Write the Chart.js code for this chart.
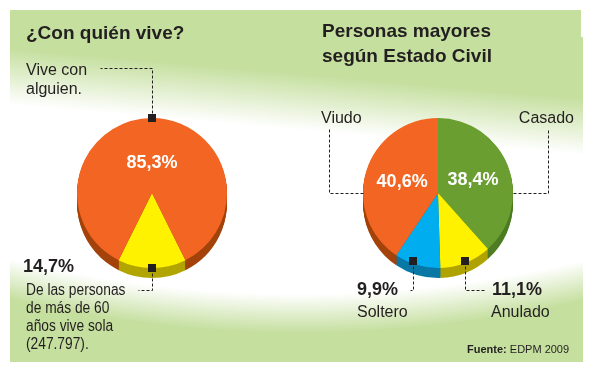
<!DOCTYPE html>
<html><head><meta charset="utf-8">
<script src="https://cdn.jsdelivr.net/npm/chart.js@4"></script>
<style>
html,body{margin:0;padding:0;background:#fff;}
#wrap{position:relative;width:591px;height:372px;overflow:hidden;font-family:"Liberation Sans",Arial,Helvetica,sans-serif;color:#231f20;}
#panel{position:absolute;left:10px;top:10px;width:573px;height:352px;
 background:
  linear-gradient(185deg, #c5df9f 0%, #c5df9f 22%, rgba(197,223,159,0) 36%),
  radial-gradient(circle at 290px -929px, rgba(197,223,159,0) 0px, rgba(197,223,159,0) 1213px, #c5df9f 1252px),
  #fff;}
#notch{position:absolute;left:581px;top:10px;width:4px;height:27px;background:#fff;}
canvas{position:absolute;left:0;top:0;}
.t{position:absolute;white-space:nowrap;}
.title{font-weight:bold;font-size:19px;line-height:25px;}
.lab{font-size:16px;line-height:19px;}
.val{font-weight:bold;font-size:18px;line-height:20px;}
.narrow{font-size:16px;line-height:18px;transform:scaleX(0.86);transform-origin:0 0;}
.src{font-size:11px;line-height:13px;}
</style></head>
<body>
<div id="wrap">
  <div id="panel"></div>
  <div id="notch"></div>
  <canvas id="c1" width="591" height="372"></canvas>
  <canvas id="c2" width="591" height="372"></canvas>

  <div class="t title" style="left:26px;top:20px;">¿Con quién vive?</div>
  <div class="t lab" style="left:26px;top:60px;">Vive con<br>alguien.</div>
  <div class="t val" id="vSola" style="left:23px;top:256px;"></div>
  <div class="t narrow" style="left:26px;top:281px;">De las personas<br>de más de 60<br>años vive sola<br>(247.797).</div>

  <div class="t title" style="left:322px;top:18px;">Personas mayores<br>según Estado Civil</div>
  <div class="t lab" style="left:321px;top:108px;">Viudo</div>
  <div class="t lab" style="right:17px;top:108px;">Casado</div>
  <div class="t val" id="vSolt" style="right:193px;top:279px;"></div>
  <div class="t lab" style="left:357px;top:302px;">Soltero</div>
  <div class="t val" id="vAnul" style="left:492px;top:279px;"></div>
  <div class="t lab" style="left:491px;top:302px;">Anulado</div>
  <div class="t src" style="left:467px;top:343px;"><b>Fuente:</b> EDPM 2009</div>
</div>
<script>
// ---- data ----
const viveLabels = ['Vive sola', 'Vive con alguien'];
const viveValues = [14.7, 85.3];
const viveColors = ['#fff200', '#f26522'];
const viveSide   = ['#b3a500', '#a3430b'];

const civilLabels = ['Casado', 'Anulado', 'Soltero', 'Viudo'];
const civilValues = [38.4, 11.1, 9.9, 40.6];
const civilColors = ['#6a9e30', '#fff200', '#00aeef', '#f26522'];
const civilSide   = ['#4d7c22', '#b0a300', '#0a78a6', '#a3430b'];

const fmt = v => v.toFixed(1).replace('.', ',') + '%';
document.getElementById('vSola').textContent = fmt(viveValues[0]);
document.getElementById('vSolt').textContent = fmt(civilValues[2]);
document.getElementById('vAnul').textContent = fmt(civilValues[1]);

const INK = '#231f20';

const pie3d = {
  id: 'pie3d',
  beforeDatasetsDraw(chart, args, o) {
    const ctx = chart.ctx, meta = chart.getDatasetMeta(0);
    ctx.save();
    for (let d = o.depth; d >= 1; d--) {
      meta.data.forEach((arc, i) => {
        const p = arc.getProps(['x','y','startAngle','endAngle','outerRadius'], true);
        ctx.beginPath();
        ctx.moveTo(p.x, p.y + d);
        ctx.arc(p.x, p.y + d, p.outerRadius, p.startAngle, p.endAngle);
        ctx.closePath();
        ctx.fillStyle = o.sideColors[i];
        ctx.fill();
      });
    }
    ctx.restore();
  },
  afterDatasetsDraw(chart, args, o) {
    const ctx = chart.ctx, meta = chart.getDatasetMeta(0);
    const vals = chart.data.datasets[0].data;
    ctx.save();
    // inner labels
    ctx.fillStyle = '#ffffff';
    ctx.font = 'bold 18px "Liberation Sans", Arial, sans-serif';
    ctx.textAlign = 'center';
    ctx.textBaseline = 'middle';
    o.inner.forEach(i => {
      const p = meta.data[i].getProps(['x','y','startAngle','endAngle','outerRadius'], true);
      const a = (p.startAngle + p.endAngle) / 2;
      ctx.fillText(fmt(vals[i]), p.x + Math.cos(a) * p.outerRadius * o.labelR, p.y + Math.sin(a) * p.outerRadius * o.labelR);
    });
    // leaders
    ctx.strokeStyle = INK;
    ctx.lineWidth = 1;
    ctx.setLineDash([3, 2]);
    const pts = [];
    o.leaders.forEach(L => {
      const p = meta.data[L.index].getProps(['x','y','startAngle','endAngle','outerRadius'], true);
      const a = L.angle !== undefined ? (L.angle - 90) * Math.PI / 180 : (p.startAngle + p.endAngle) / 2;
      let x = Math.round(p.x + Math.cos(a) * p.outerRadius * L.rf) + 0.5;
      let y = Math.round(p.y + Math.sin(a) * p.outerRadius * L.rf) + 0.5;
      pts.push([x, y, L.square]);
      ctx.beginPath();
      ctx.moveTo(x, y);
      L.steps.forEach(s => {
        if (s[0] === 'H') x = s[1] + 0.5; else y = s[1] + 0.5;
        ctx.lineTo(x, y);
      });
      ctx.stroke();
    });
    ctx.setLineDash([]);
    ctx.fillStyle = INK;
    pts.forEach(q => { if (q[2]) ctx.fillRect(q[0] - 4.5, q[1] - 4.5, 8, 8); });
    ctx.restore();
  }
};

function makePie(id, labels, values, colors, rotation, padding, pluginOpts) {
  return new Chart(document.getElementById(id), {
    type: 'pie',
    data: { labels, datasets: [{ data: values, backgroundColor: colors, borderWidth: 0, clip: false }] },
    options: {
      responsive: false, animation: false, events: [],
      rotation,
      layout: { padding },
      plugins: { legend: { display: false }, tooltip: { enabled: false }, pie3d: pluginOpts }
    },
    plugins: [pie3d]
  });
}

makePie('c1', viveLabels, viveValues, viveColors,
  180 - viveValues[0] * 3.6 / 2,
  { left: 77, right: 364, top: 118, bottom: 104 },
  { depth: 10, sideColors: viveSide, inner: [1], labelR: 0.4,
    leaders: [
      { index: 1, rf: 1, square: true, steps: [['V', 68], ['H', 100]] },
      { index: 0, rf: 1, square: true, steps: [['V', 290], ['H', 138]] }
    ] });

makePie('c2', civilLabels, civilValues, civilColors, 0,
  { left: 363, right: 78, top: 118, bottom: 104 },
  { depth: 10, sideColors: civilSide, inner: [0, 3], labelR: 0.5,
    leaders: [
      { index: 3, rf: 1, angle: 270, square: false, steps: [['H', 329], ['V', 128]] },
      { index: 0, rf: 1, angle: 90, square: false, steps: [['H', 548], ['V', 128]] },
      { index: 2, rf: 0.96, angle: 200, square: true, steps: [['V', 290], ['H', 410]] },
      { index: 1, rf: 0.97, square: true, steps: [['V', 290], ['H', 485]] }
    ] });
</script>
</body></html>
